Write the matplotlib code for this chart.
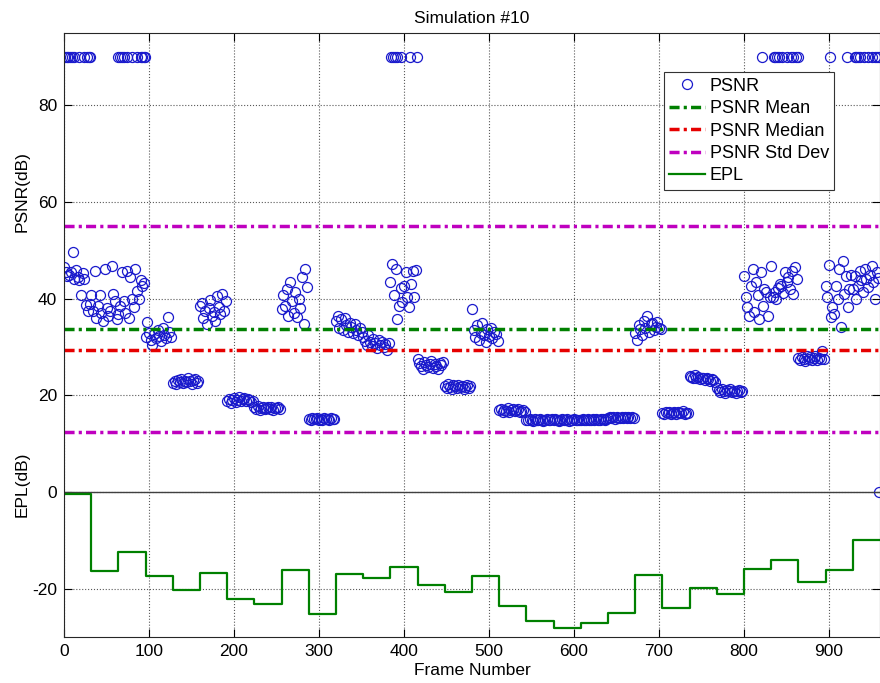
import numpy as np
import matplotlib.pyplot as plt

plt.rcParams['font.family'] = ['Liberation Sans', 'DejaVu Sans']
plt.rcParams['font.size'] = 12.5
plt.rcParams['axes.unicode_minus'] = False

seg_len = 32   # frames per EPL segment
step = 2       # one PSNR sample read every 2 frames

# PSNR (dB), one list per 32-frame segment
s00 = [46.5, 45.6, 44.8, 45.0, 45.5, 49.6, 44.0, 46.0, 44.4, 43.8, 40.8, 45.3, 44.1, 38.8, 37.5, 39.0]
s01 = [40.7, 37.5, 45.8, 36.0, 38.5, 40.7, 37.0, 35.5, 46.1, 38.0, 36.5, 37.5, 46.8, 41.0, 39.5, 35.8]
s02 = [36.8, 38.5, 45.5, 39.6, 37.0, 45.8, 36.0, 44.4, 40.0, 38.2, 46.1, 41.7, 40.0, 43.8, 42.7, 43.2]
s03 = [32.0, 35.2, 33.0, 31.5, 30.4, 32.8, 31.8, 33.5, 32.2, 31.2, 34.0, 32.6, 31.8, 36.2, 33.2, 32.0]
s04 = [22.6, 23.0, 22.4, 23.2, 22.8, 23.4, 22.5, 23.0, 22.7, 23.5, 22.9, 22.4, 23.1, 23.3, 22.6, 23.0]
s05 = [38.5, 39.2, 36.0, 37.5, 34.8, 38.0, 39.8, 36.5, 37.2, 35.5, 40.5, 38.3, 36.8, 41.0, 37.5, 39.5]
s06 = [18.8, 19.2, 18.5, 19.0, 19.4, 18.7, 19.1, 19.6, 18.9, 19.3, 19.5, 18.8, 19.2, 19.0, 18.6, 18.9]
s07 = [17.5, 17.2, 17.8, 17.0, 17.4, 17.6, 17.1, 17.3, 17.7, 17.2, 17.5, 17.0, 17.4, 17.3, 17.6, 17.2]
s08 = [37.9, 40.7, 38.5, 42.0, 36.5, 43.4, 39.5, 37.0, 41.5, 36.2, 40.0, 38.0, 44.4, 34.8, 46.2, 42.5]
s09 = [15.2, 15.0, 15.3, 15.1, 15.2, 15.4, 14.9, 15.2, 15.0, 15.3, 15.1, 15.2, 15.0, 15.3, 15.1, 15.2]
s10 = [35.5, 36.5, 34.0, 35.8, 33.5, 36.0, 34.5, 33.2, 35.0, 34.2, 33.0, 34.8, 33.5, 32.5, 34.0, 33.2]
s11 = [32.0, 31.2, 30.5, 32.5, 31.0, 30.2, 31.6, 30.8, 29.8, 31.4, 30.4, 31.0, 30.0, 30.6, 29.4, 30.8]
s12 = [43.4, 47.2, 40.7, 46.2, 35.9, 38.6, 42.2, 39.3, 42.7, 45.5, 40.3, 38.3, 43.0, 45.8, 40.3, 46.0]
s13 = [27.5, 26.8, 26.0, 25.5, 27.0, 26.2, 25.8, 26.6, 27.2, 25.6, 26.4, 26.0, 25.4, 26.8, 26.2, 27.0]
s14 = [22.0, 21.6, 22.3, 21.8, 21.4, 22.1, 21.9, 21.5, 22.2, 21.7, 22.0, 21.3, 21.8, 22.2, 21.6, 21.9]
s15 = [37.8, 33.5, 32.0, 34.5, 31.5, 33.0, 35.0, 32.5, 31.0, 33.8, 32.2, 34.0, 31.8, 33.2, 32.8, 31.2]
s16 = [16.9, 17.2, 16.6, 17.0, 16.8, 17.3, 16.5, 16.9, 17.1, 16.7, 16.9, 17.2, 16.6, 16.8, 17.0, 16.5]
s17 = [15.0, 14.9, 15.1, 15.0, 14.8, 15.1, 15.0, 14.9, 15.2, 15.0, 14.8, 15.0, 15.1, 14.9, 15.0, 15.1]
s18 = [14.9, 15.1, 15.0, 14.8, 15.0, 15.2, 14.9, 15.0, 15.1, 14.8, 15.0, 14.9, 15.1, 15.0, 14.9, 15.0]
s19 = [15.0, 15.1, 14.9, 15.0, 15.2, 15.0, 14.9, 15.1, 15.0, 15.2, 14.9, 15.0, 15.1, 15.2, 15.0, 15.1]
s20 = [15.3, 15.5, 15.4, 15.6, 15.2, 15.5, 15.4, 15.3, 15.6, 15.4, 15.5, 15.3, 15.6, 15.4, 15.5, 15.3]
s21 = [33.0, 31.5, 34.5, 33.8, 32.5, 35.5, 34.0, 36.5, 33.2, 34.8, 35.0, 33.5, 34.2, 35.2, 34.0, 33.8]
s22 = [16.4, 16.2, 16.6, 16.3, 16.5, 16.1, 16.4, 16.6, 16.2, 16.5, 16.3, 16.4, 16.7, 16.2, 16.4, 16.3]
s23 = [24.0, 23.8, 23.5, 24.2, 23.6, 23.9, 23.4, 23.7, 23.5, 23.2, 23.6, 23.3, 23.0, 23.4, 23.1, 22.8]
s24 = [21.6, 21.2, 20.8, 21.4, 21.0, 20.6, 21.1, 20.9, 21.3, 20.7, 21.0, 20.5, 20.9, 21.2, 20.8, 21.0]
s25 = [44.8, 40.3, 38.3, 36.5, 42.7, 46.1, 37.2, 43.4, 40.7, 35.9, 45.5, 38.6, 42.0, 41.5, 36.5, 40.3]
s26 = [46.8, 40.3, 41.5, 40.0, 42.2, 43.0, 42.7, 41.2, 45.5, 43.4, 44.4, 42.0, 45.8, 41.0, 46.5, 44.0]
s27 = [27.8, 27.4, 28.0, 27.6, 27.2, 28.2, 27.5, 27.9, 27.3, 27.7, 28.1, 27.4, 27.8, 27.6, 29.2, 27.5]
s28 = [42.7, 40.3, 47.0, 36.2, 38.3, 36.9, 42.7, 40.0, 46.1, 34.2, 47.9, 41.0, 44.8, 38.3, 42.0, 45.0]
s29 = [42.0, 44.8, 40.0, 42.7, 45.8, 43.8, 41.5, 46.1, 44.0, 42.5, 45.0, 46.8, 43.5, 40.0, 45.5, 44.2]
psnr_segments = [s00, s01, s02, s03, s04, s05, s06, s07, s08, s09,
                 s10, s11, s12, s13, s14, s15, s16, s17, s18, s19,
                 s20, s21, s22, s23, s24, s25, s26, s27, s28, s29]

# frames drawn at the saturated PSNR value
lossless_frames = [1, 3, 5, 7, 9, 12, 18, 24, 27, 29, 31,
                   64, 66, 68, 70, 74, 80, 86, 90, 92, 94, 95,
                   385, 387, 389, 392, 396, 407, 415,
                   821, 835, 837, 839, 841, 845, 850, 855, 858, 861, 864,
                   901, 921, 930, 932, 934, 937, 941, 946, 950, 954, 957, 959]
lossless_psnr = 90
last_frame = 959
last_psnr = 0

# EPL (dB), one value per 32-frame segment
epl = [-0.5, -16.3, -12.5, -17.3, -20.2, -16.7, -22.1, -23.1, -16.1, -25.2,
       -17.0, -17.8, -15.6, -19.3, -20.7, -17.3, -23.6, -26.7, -28.2, -27.0,
       -25.0, -17.2, -23.9, -19.9, -21.0, -15.9, -14.1, -18.7, -16.1, -10.0]

psnr_mean = 33.7
psnr_median = 29.3
psnr_std_hi = 55.1
psnr_std_lo = 12.4

frames = np.concatenate([i * seg_len + np.arange(len(s)) * step
                         for i, s in enumerate(psnr_segments)])
psnr = np.concatenate(psnr_segments)

blue = (0.1, 0.1, 0.8)
green = (0.0, 0.5, 0.0)
red = (0.9, 0.0, 0.0)
magenta = (0.75, 0.0, 0.75)
dashdot = (0, (2.9, 1.2, 0.9, 1.2))

fig = plt.figure(figsize=(8.8, 6.83), dpi=100)
ax = fig.add_axes([64 / 880, 46 / 683, 816 / 880, 604 / 683])

mk = dict(linestyle='none', marker='o', mfc='none', mec=blue, ms=7.2, mew=0.9)
ax.plot(frames, psnr, label='PSNR', **mk)
ax.plot(lossless_frames, [lossless_psnr] * len(lossless_frames), **mk)
ax.plot([last_frame], [last_psnr], **mk)

ax.axhline(0, color='0.25', lw=1.0)
ax.axhline(psnr_mean, color=green, lw=2.5, linestyle=dashdot, label='PSNR Mean')
ax.axhline(psnr_median, color=red, lw=2.5, linestyle=dashdot, label='PSNR Median')
ax.axhline(psnr_std_hi, color=magenta, lw=2.5, linestyle=dashdot, label='PSNR Std Dev')
ax.axhline(psnr_std_lo, color=magenta, lw=2.5, linestyle=dashdot)

edges = np.arange(len(epl) + 1) * seg_len
ax.plot(edges, epl + [epl[-1]], drawstyle='steps-post', color=green, lw=1.6, label='EPL')

ax.set_xlim(0, 960)
ax.set_ylim(-30, 95)
ax.set_xticks(np.arange(0, 901, 100))
ax.set_yticks(np.arange(-20, 81, 20))
ax.tick_params(direction='in', top=True, right=True, length=6, pad=5)
ax.grid(True, linestyle=':', color='0.35', lw=0.8)
for sp in ax.spines.values():
    sp.set_color('0.15')

ax.set_title('Simulation #10', fontsize=12.5, pad=7)
ax.set_xlabel('Frame Number', labelpad=3)
fig.text(22 / 880, 1 - 192 / 683, 'PSNR(dB)', rotation=90, ha='center', va='center')
fig.text(22 / 880, 1 - 484 / 683, 'EPL(dB)', rotation=90, ha='center', va='center')

leg = ax.legend(loc='upper right', bbox_to_anchor=(0.944, 0.935), numpoints=1,
                fancybox=False, framealpha=1, edgecolor='0.2', handlelength=2.0,
                handletextpad=0.25, labelspacing=0.3, borderpad=0.3, borderaxespad=0,
                fontsize=13)
leg.get_frame().set_linewidth(0.8)

plt.savefig('out.png', dpi=100)
